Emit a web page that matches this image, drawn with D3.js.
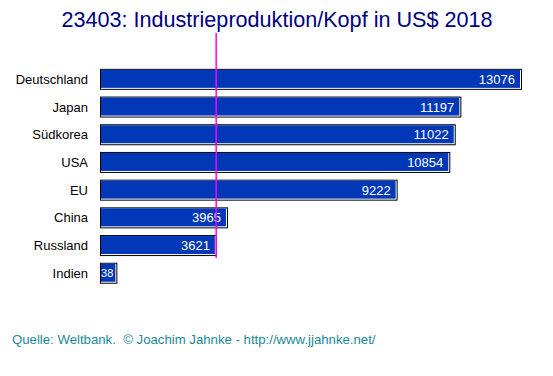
<!DOCTYPE html>
<html>
<head>
<meta charset="utf-8">
<script src="https://cdn.jsdelivr.net/npm/d3@7"></script>
<style>
  body { margin: 0; background: #fff; }
  svg { font-family: Arial, "Liberation Sans", sans-serif; }
</style>
</head>
<body>
<svg width="553" height="376"></svg>
<script>
var countries = ["Deutschland", "Japan", "Südkorea", "USA", "EU", "China", "Russland", "Indien"]
var values = [13076, 11197, 11022, 10854, 9222, 3965, 3621, 538]
var worldAvg = 3600

var svg = d3.select('svg')

var x = d3.scaleLinear().domain([0, 13076]).range([100, 522])
var y = d3.scaleBand().domain(countries).range([64.5, 286.1]).paddingInner(0.314).paddingOuter(0.157)

svg.append('text')
  .attr('x', 277).attr('y', 27)
  .attr('text-anchor', 'middle')
  .attr('font-size', 21.6)
  .attr('fill', '#000080')
  .text('23403: Industrieproduktion/Kopf in US$ 2018')

var bars = svg.append('g').selectAll('g')
  .data(countries)
  .enter()
  .append('g')

// outer black frame
bars.append('rect')
  .attr('x', x(0))
  .attr('y', d => y(d))
  .attr('width', (d, i) => x(values[i]) - x(0))
  .attr('height', y.bandwidth() + 2)
  .attr('fill', '#000')

// white bevel
bars.append('rect')
  .attr('x', x(0) + 1)
  .attr('y', d => y(d) + 1)
  .attr('width', (d, i) => x(values[i]) - x(0) - 2)
  .attr('height', y.bandwidth())
  .attr('fill', '#fff')

bars.append('rect')
  .attr('x', x(0) + 1)
  .attr('y', d => y(d) + 1)
  .attr('width', (d, i) => x(values[i]) - x(0) - 3)
  .attr('height', y.bandwidth() - 1)
  .attr('fill', '#0038b8')

svg.append('defs').selectAll('clipPath')
  .data(countries)
  .enter()
  .append('clipPath')
    .attr('id', (d, i) => 'clip' + i)
  .append('rect')
    .attr('x', x(0) + 1)
    .attr('y', d => y(d))
    .attr('width', (d, i) => x(values[i]) - x(0) - 2)
    .attr('height', y.bandwidth() + 2)

// narrow bars get a smaller label, tighter to the end
function narrow(i) { return x(values[i]) - x(0) < 40 }

bars.append('text')
  .attr('clip-path', (d, i) => 'url(#clip' + i + ')')
  .attr('x', (d, i) => x(values[i]) - (narrow(i) ? 4 : 7))
  .attr('y', (d, i) => y(d) + y.bandwidth() / 2 + (narrow(i) ? 5 : 5.5))
  .attr('text-anchor', 'end')
  .attr('font-size', (d, i) => narrow(i) ? 11 : 13)
  .attr('fill', '#fff')
  .text((d, i) => values[i])

bars.append('text')
  .attr('x', 88)
  .attr('y', d => y(d) + y.bandwidth() / 2 + 5.5)
  .attr('text-anchor', 'end')
  .attr('font-size', 13)
  .attr('fill', '#000')
  .text(d => d)

svg.append('line')
  .attr('x1', x(worldAvg)).attr('x2', x(worldAvg))
  .attr('y1', 33).attr('y2', 258)
  .attr('stroke', '#ff00ff')
  .attr('stroke-width', 1.5)

svg.append('text')
  .attr('x', 12).attr('y', 344)
  .attr('font-size', 13.2)
  .attr('fill', '#1a8a9a')
  .attr('xml:space', 'preserve')
  .text('Quelle: Weltbank.  © Joachim Jahnke - http://www.jjahnke.net/')
</script>
</body>
</html>
